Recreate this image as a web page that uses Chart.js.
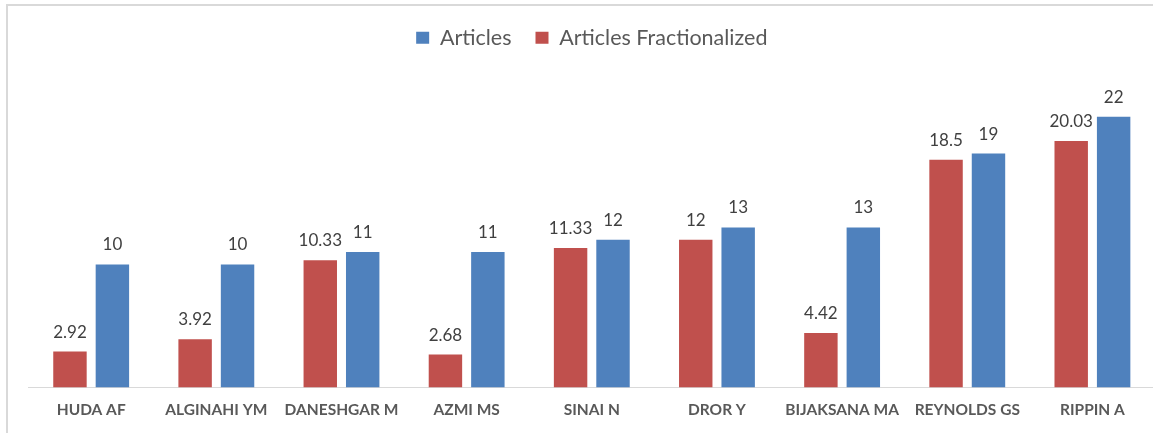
<!DOCTYPE html>
<html>
<head>
<meta charset="utf-8">
<script src="https://cdn.jsdelivr.net/npm/chart.js@4"></script>
<style>
  html, body { margin: 0; padding: 0; background: #fff; overflow: hidden; }
  #frame { position: absolute; left: 6px; top: 4px; width: 1200px; height: 460px;
           border-left: 2px solid #d9d9d9; border-top: 2px solid #d9d9d9; }
  #chartArea { position: absolute; left: 0; top: 0; }
</style>
</head>
<body>
<div id="frame"></div>
<canvas id="chartArea" width="1175" height="433"></canvas>
<script>
var authors = ['HUDA AF', 'ALGINAHI YM', 'DANESHGAR M', 'AZMI MS', 'SINAI N',
               'DROR Y', 'BIJAKSANA MA', 'REYNOLDS GS', 'RIPPIN A'];
var articles = [10, 10, 11, 11, 12, 13, 13, 19, 22];
var fractionalized = [2.92, 3.92, 10.33, 2.68, 11.33, 12, 4.42, 18.5, 20.03];

var valueLabels = {
    id: 'valueLabels',
    afterDatasetsDraw: function(chart) {
        var ctx = chart.ctx;
        ctx.save();
        ctx.font = '17px Lato';
        ctx.fillStyle = '#404040';
        ctx.textAlign = 'center';
        ctx.textBaseline = 'alphabetic';
        chart.data.datasets.forEach(function(ds, i) {
            var meta = chart.getDatasetMeta(i);
            meta.data.forEach(function(bar, j) {
                ctx.fillText(String(ds.data[j]), bar.x, bar.y - 14);
            });
        });
        ctx.restore();
    }
};

var config = {
    type: 'bar',
    data: {
        labels: authors,
        datasets: [{
            label: 'Articles Fractionalized',
            data: fractionalized,
            backgroundColor: '#c0504d',
            borderWidth: 0
        }, {
            label: 'Articles',
            data: articles,
            backgroundColor: '#4f81bd',
            borderWidth: 0
        }]
    },
    options: {
        responsive: false,
        animation: false,
        devicePixelRatio: 1,
        categoryPercentage: 0.678,
        barPercentage: 0.788,
        layout: { padding: { left: 28.6, right: 20, top: 3, bottom: 0 } },
        plugins: {
            legend: {
                position: 'top',
                weight: 1000,
                labels: {
                    font: { family: 'Lato', size: 21.5 },
                    color: '#595959',
                    boxWidth: 13,
                    boxHeight: 12,
                    padding: 24,
                    sort: function(a, b) { return b.datasetIndex - a.datasetIndex; }
                }
            },
            // empty title used only as a spacer between legend and bars
            title: {
                display: true,
                text: ' ',
                position: 'top',
                weight: 500,
                font: { size: 1 },
                padding: { top: 0, bottom: 20 }
            },
            tooltip: { enabled: false }
        },
        scales: {
            x: {
                grid: { display: false, drawTicks: false },
                border: { color: '#d9d9d9', width: 1 },
                ticks: {
                    font: { family: 'Lato', size: 15.5, weight: 'bold' },
                    color: '#595959',
                    padding: 13,
                    maxRotation: 0,
                    autoSkip: false
                },
                afterFit: function(scale) { scale.height = 45.5; }
            },
            y: {
                display: false,
                min: 0,
                max: 25
            }
        }
    },
    plugins: [valueLabels]
};

var ctx = document.getElementById('chartArea').getContext('2d');
window.myBar = new Chart(ctx, config);
</script>
</body>
</html>
